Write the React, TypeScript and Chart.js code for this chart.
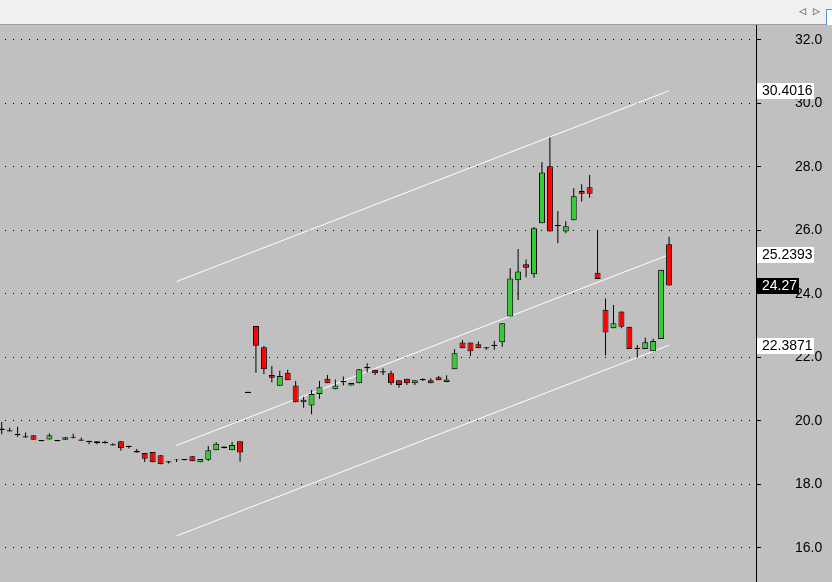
import React, { useEffect, useRef } from "react";
import { Chart, registerables } from "chart.js";

Chart.register(...registerables);

// ---- data ----
const opens = [
  19.76, 19.71, 19.59, 19.52, 19.55, 19.40, 19.42, 19.40, 19.41, 19.50,
  19.42, 19.38, 19.36, 19.35, 19.27, 19.36, 19.22, 19.06, 18.99, 19.02,
  18.92, 18.73, 18.79, 18.80, 18.89, 18.70, 18.78, 19.08, 19.20, 19.08,
  19.36, 20.92, 22.99, 22.32, 21.45, 21.11, 21.52, 21.12, 20.59, 20.49,
  20.85, 21.33, 21.00, 21.26, 21.12, 21.19, 21.70, 21.61, 21.57, 21.50,
  21.28, 21.33, 21.19, 21.32, 21.28, 21.38, 21.23, 21.63, 22.47, 22.47,
  22.42, 22.32, 22.40, 22.48, 23.29, 24.43, 24.94, 24.62, 26.23, 28.02,
  26.17, 25.97, 26.32, 27.24, 27.36, 24.67, 23.50, 22.92, 23.45, 22.97,
  22.31, 22.27, 22.20, 22.58, 25.57,
];
const highs = [
  19.97, 19.79, 19.82, 19.64, 19.55, 19.40, 19.61, 19.40, 19.49, 19.60,
  19.48, 19.38, 19.36, 19.38, 19.30, 19.36, 19.22, 19.12, 18.99, 19.02,
  18.92, 18.73, 18.80, 18.80, 18.89, 18.80, 19.21, 19.33, 19.20, 19.34,
  19.36, 20.92, 22.99, 22.36, 21.73, 21.58, 21.61, 21.26, 20.76, 20.98,
  21.26, 21.45, 21.31, 21.40, 21.20, 21.63, 21.82, 21.61, 21.66, 21.58,
  21.28, 21.33, 21.28, 21.35, 21.35, 21.42, 21.44, 22.26, 22.55, 22.47,
  22.50, 22.32, 22.53, 23.08, 24.81, 25.42, 25.09, 26.11, 28.16, 28.94,
  26.61, 26.29, 27.33, 27.46, 27.75, 25.98, 23.86, 23.65, 23.45, 22.97,
  22.39, 22.62, 22.59, 24.76, 25.80,
];
const lows = [
  19.58, 19.67, 19.50, 19.47, 19.41, 19.36, 19.42, 19.36, 19.41, 19.45,
  19.38, 19.27, 19.27, 19.28, 19.23, 19.06, 19.13, 19.01, 18.71, 18.70,
  18.64, 18.66, 18.71, 18.76, 18.73, 18.70, 18.74, 19.08, 19.14, 19.08,
  18.72, 20.88, 21.52, 21.48, 21.21, 21.11, 21.28, 20.59, 20.42, 20.21,
  20.70, 21.19, 21.00, 21.12, 21.12, 21.19, 21.53, 21.45, 21.45, 21.13,
  21.05, 21.13, 21.13, 21.26, 21.19, 21.28, 21.23, 21.63, 22.29, 22.05,
  22.29, 22.24, 22.24, 22.34, 23.29, 23.81, 24.53, 24.51, 26.23, 25.97,
  25.60, 25.91, 26.32, 26.91, 27.03, 24.47, 22.06, 22.92, 22.92, 22.27,
  21.99, 22.27, 22.20, 22.58, 24.27,
];
const closes = [
  19.72, 19.67, 19.55, 19.48, 19.41, 19.36, 19.55, 19.36, 19.49, 19.47,
  19.38, 19.34, 19.30, 19.31, 19.23, 19.14, 19.18, 19.01, 18.81, 18.70,
  18.64, 18.69, 18.76, 18.76, 18.73, 18.80, 19.08, 19.28, 19.14, 19.24,
  19.01, 20.88, 22.37, 21.63, 21.36, 21.42, 21.28, 20.59, 20.67, 20.85,
  21.06, 21.19, 21.12, 21.22, 21.20, 21.63, 21.66, 21.50, 21.53, 21.19,
  21.13, 21.19, 21.28, 21.28, 21.19, 21.28, 21.31, 22.13, 22.29, 22.20,
  22.29, 22.28, 22.36, 23.08, 24.49, 24.71, 24.83, 26.07, 27.83, 25.97,
  26.13, 26.13, 27.08, 27.16, 27.16, 24.47, 22.79, 23.08, 22.97, 22.27,
  22.27, 22.48, 22.52, 24.76, 24.27,
];

const yTicks = [16, 18, 20, 22, 24, 26, 28, 30, 32];

// regression channel end points (bar index, value)
const channelX = [22, 84];
const upperLine = [24.39, 30.4016];
const midLine = [19.23, 25.2393];
const lowerLine = [16.38, 22.3871];
const channelLabels = [30.4016, 25.2393, 22.3871];
const lastClose = 24.27;

// visible ranges
const X_MIN = -0.214;
const X_MAX = 94.94;
const Y_MIN = 14.929;
const Y_MAX = 32.472;

const GREEN = "#32cd32";
const RED = "#ff0000";
const FONT = '"Liberation Sans", Arial, sans-serif';

const labelPlugin = {
  id: "priceLabels",
  afterDraw(chart: any) {
    const ctx = chart.ctx;
    const ys = chart.scales.y;
    const left = chart.chartArea.right + 1;
    ctx.save();
    ctx.font = "14px " + FONT;
    ctx.textBaseline = "middle";
    ctx.textAlign = "left";
    channelLabels.forEach((v) => {
      const py = ys.getPixelForValue(v);
      ctx.fillStyle = "#ffffff";
      ctx.fillRect(left, Math.round(py - 7.5), 57, 16);
      ctx.fillStyle = "#000000";
      ctx.fillText(v.toFixed(4), left + 5, Math.round(py - 7.5) + 8.5);
    });
    const pc = ys.getPixelForValue(lastClose);
    ctx.fillStyle = "#000000";
    ctx.fillRect(left, Math.round(pc - 7.5), 42, 16);
    ctx.fillStyle = "#ffffff";
    ctx.fillText(lastClose.toFixed(2), left + 5, Math.round(pc - 7.5) + 8.5);
    ctx.restore();
  },
};

export default function App() {
  const ref = useRef<HTMLCanvasElement | null>(null);

  useEffect(() => {
    document.body.style.margin = "0";
    const canvas = ref.current;
    if (!canvas) return;

    const bodyData = opens.map((o, i) => ({ x: i, y: [o, closes[i]] }));
    const wickData = lows.map((l, i) => ({ x: i, y: [l, highs[i]] }));
    const bodyColors = opens.map((o, i) => (closes[i] >= o ? GREEN : RED));

    const line = (vals: number[]) => ({
      type: "line" as const,
      data: [
        { x: channelX[0], y: vals[0] },
        { x: channelX[1], y: vals[1] },
      ],
      borderColor: "#ffffff",
      borderWidth: 1,
      pointRadius: 0,
      fill: false,
      order: 3,
    });

    const chart = new Chart(canvas, {
      type: "bar",
      data: {
        datasets: [
          {
            type: "bar",
            data: bodyData as any,
            backgroundColor: bodyColors,
            borderColor: "#000000",
            borderWidth: 1,
            borderSkipped: false,
            barThickness: 6,
            grouped: false,
            inflateAmount: 0,
            order: 1,
          } as any,
          {
            type: "bar",
            data: wickData as any,
            backgroundColor: "#000000",
            borderWidth: 0,
            barThickness: 1,
            grouped: false,
            inflateAmount: 0,
            order: 2,
          } as any,
          line(upperLine) as any,
          line(midLine) as any,
          line(lowerLine) as any,
        ],
      },
      options: {
        responsive: false,
        animation: false,
        events: [],
        layout: { padding: 0, autoPadding: false },
        plugins: {
          legend: { display: false },
          tooltip: { enabled: false },
        },
        scales: {
          x: {
            type: "linear",
            min: X_MIN,
            max: X_MAX,
            offset: false,
            display: false,
          },
          y: {
            type: "linear",
            position: "right",
            min: Y_MIN,
            max: Y_MAX,
            afterBuildTicks: (s: any) => {
              s.ticks = yTicks.map((v) => ({ value: v }));
            },
            afterFit: (s: any) => {
              s.width = 76;
              s.paddingTop = 0;
              s.paddingBottom = 0;
              s.paddingLeft = 0;
              s.paddingRight = 0;
            },
            grid: {
              color: "#000000",
              lineWidth: 1,
              drawTicks: true,
              tickLength: 5,
              tickColor: "#000000",
            },
            border: {
              display: true,
              color: "#000000",
              width: 1,
              dash: [1, 7],
              dashOffset: 3,
            },
            ticks: {
              color: "#000000",
              font: { family: FONT, size: 14 },
              padding: 34,
              crossAlign: "near",
              autoSkip: false,
              callback: (v: any) => Number(v).toFixed(1),
            },
          },
        },
      } as any,
      plugins: [labelPlugin],
    });

    return () => chart.destroy();
  }, []);

  return (
    <div
      style={{
        position: "relative",
        width: 832,
        height: 582,
        background: "#f0f0f0",
        overflow: "hidden",
      }}
    >
      <div
        style={{
          position: "absolute",
          left: 0,
          top: 0,
          width: 832,
          height: 24,
          background: "#f0f0f0",
          borderBottom: "1px solid #a0a0a0",
        }}
      />
      <span
        style={{
          position: "absolute",
          left: 799,
          top: 4,
          fontFamily: "DejaVu Sans",
          fontSize: 9,
          color: "#202020",
          lineHeight: "14px",
        }}
      >
        ◁
      </span>
      <span
        style={{
          position: "absolute",
          left: 813,
          top: 4,
          fontFamily: "DejaVu Sans",
          fontSize: 9,
          color: "#202020",
          lineHeight: "14px",
        }}
      >
        ▷
      </span>
      <div
        style={{
          position: "absolute",
          left: 826,
          top: 9,
          width: 10,
          height: 16,
          background: "#ffffff",
          borderLeft: "1px solid #5a8fd8",
          borderTop: "1px solid #5a8fd8",
        }}
      />
      <canvas
        ref={ref}
        width={832}
        height={557}
        style={{
          position: "absolute",
          left: 0,
          top: 25,
          width: 832,
          height: 557,
          background: "#c0c0c0",
          display: "block",
        }}
      />
    </div>
  );
}
